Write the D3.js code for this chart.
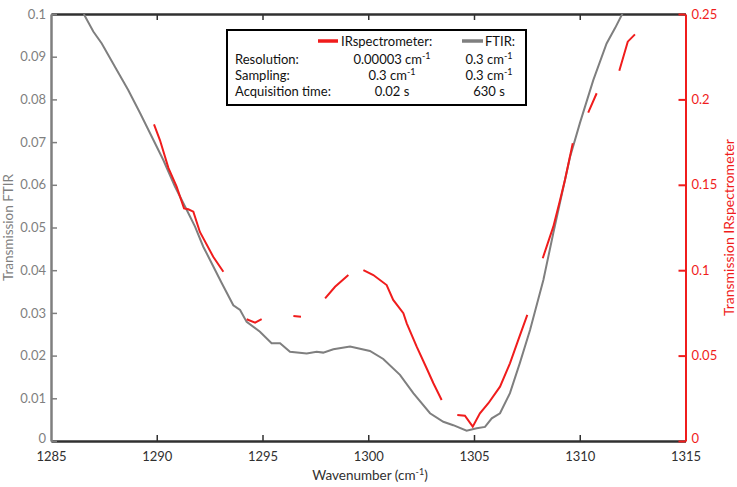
<!DOCTYPE html>
<html><head><meta charset="utf-8">
<script src="https://cdn.jsdelivr.net/npm/d3@7/dist/d3.min.js"></script>
<style>body{margin:0;background:#fff;}svg{display:block;font-family:Lato,"Open Sans",sans-serif;}</style>
</head><body><svg id="c" width="737" height="487"></svg>
<script>
// FTIR transmission (left axis)
const ftirWn = [1286.55,1287.00,1287.40,1288.11,1288.65,1289.21,1289.76,1290.31,1290.86,1291.42,1291.81,1292.20,1292.52,1293.07,1293.62,1293.94,1294.25,1294.88,1295.43,1295.83,1296.30,1297.09,1297.56,1297.87,1298.35,1299.14,1300.08,1300.71,1301.50,1302.13,1302.92,1303.55,1304.02,1304.65,1305.13,1305.52,1305.84,1306.23,1306.70,1307.17,1307.65,1308.28,1308.75,1309.54,1310.01,1310.64,1311.27,1311.67,1312.03];
const ftirT = [0.1000,0.0959,0.0931,0.0869,0.0822,0.0768,0.0713,0.0658,0.0596,0.0541,0.0502,0.0455,0.0424,0.0370,0.0318,0.0307,0.0279,0.0256,0.0229,0.0229,0.0209,0.0205,0.0209,0.0207,0.0215,0.0221,0.0211,0.0192,0.0155,0.0112,0.0065,0.0045,0.0037,0.0024,0.0030,0.0033,0.0053,0.0065,0.0112,0.0183,0.0260,0.0377,0.0487,0.0665,0.0745,0.0845,0.0931,0.0967,0.1002];
// IR spectrometer transmission (right axis), null = gap between segments
const irWn = [1289.87,1290.15,1290.55,1290.94,1291.29,1291.49,1291.73,1292.04,1292.67,1293.15,null,
  1294.25,1294.65,1294.96,null,
  1296.46,1296.82,null,
  1297.96,1298.43,1299.06,null,
  1299.77,1300.24,1300.87,1301.18,1301.66,1301.82,1302.29,1302.76,1303.08,1303.47,null,
  1304.21,1304.57,1304.94,1305.28,1305.68,1306.23,1306.70,1307.09,1307.52,null,
  1308.25,1308.75,1309.07,1309.30,1309.67,null,
  1310.40,1310.80,null,
  1311.87,1312.27,1312.61];
const irT = [0.1854,0.1762,0.1599,0.1489,0.1362,0.1357,0.1343,0.1224,0.1079,0.0991,null,
  0.0713,0.0693,0.0713,null,
  0.0732,0.0728,null,
  0.0835,0.0903,0.0972,null,
  0.1001,0.0972,0.0913,0.0826,0.0748,0.0689,0.0552,0.0426,0.0338,0.0240,null,
  0.0152,0.0148,0.0084,0.0162,0.0221,0.0318,0.0455,0.0591,0.0738,null,
  0.1070,0.1255,0.1411,0.1528,0.1743,null,
  0.1922,0.2036,null,
  0.2168,0.2338,0.2381];
const xTicks = [1285,1290,1295,1300,1305,1310,1315];
const leftTicks = [0,0.01,0.02,0.03,0.04,0.05,0.06,0.07,0.08,0.09,0.1];
const leftLabels = ["0","0.01","0.02","0.03","0.04","0.05","0.06","0.07","0.08","0.09","0.1"];
const rightTicks = [0,0.05,0.1,0.15,0.2,0.25];
const rightLabels = ["0","0.05","0.1","0.15","0.2","0.25"];
const legendRows = [
  ["Resolution:","0.00003 cm","0.3 cm"],
  ["Sampling:","0.3 cm","0.3 cm"],
  ["Acquisition time:","0.02 s","630 s"]
];

const svg = d3.select("#c");
const L=51, R=685.5, T=14, B=441;
const grey="#7f7f7f", red="#f01c1c", dark="#303030";
const x = d3.scaleLinear().domain([1285,1315]).range([L,R]);
const yL = d3.scaleLinear().domain([0,0.1]).range([B,T]);
const yR = d3.scaleLinear().domain([0,0.25]).range([B,T]);

svg.append("defs").append("clipPath").attr("id","clip")
  .append("rect").attr("x",L).attr("y",T).attr("width",R-L).attr("height",B-T);

// top border with ticks
const topAx = svg.append("g").attr("transform",`translate(0,${T})`)
  .call(d3.axisTop(x).tickValues(xTicks.slice(1,-1)).tickSizeInner(-6).tickSizeOuter(0).tickFormat(""));
topAx.select(".domain").attr("stroke",dark).attr("stroke-width",2.5);
topAx.selectAll(".tick line").attr("stroke",dark).attr("stroke-width",1.5);

// bottom axis
const bot = svg.append("g").attr("transform",`translate(0,${B})`)
  .call(d3.axisBottom(x).tickValues(xTicks).tickSizeInner(-6).tickSizeOuter(0).tickPadding(11).tickFormat(d3.format("d")));
bot.select(".domain").attr("stroke",dark).attr("stroke-width",2.5);
bot.selectAll(".tick line").attr("stroke",dark).attr("stroke-width",1.5)
  .attr("display",(d,i)=> (i===0||i===xTicks.length-1)?"none":null);
bot.selectAll(".tick text").attr("fill",dark).attr("font-size",13).attr("font-family","Lato");

// left axis
const la = svg.append("g").attr("transform",`translate(${L},0)`)
  .call(d3.axisLeft(yL).tickValues(leftTicks).tickSizeInner(-6).tickSizeOuter(0).tickPadding(5).tickFormat((d,i)=>leftLabels[i]));
la.select(".domain").attr("stroke",grey).attr("stroke-width",2.5);
la.selectAll(".tick line").attr("stroke",grey).attr("stroke-width",1.5);
la.selectAll(".tick text").attr("fill",grey).attr("font-size",13).attr("font-family","Lato")
  .attr("dy",(d)=> d===0 ? "0.1em" : "0.32em");

// right axis
const ra = svg.append("g").attr("transform",`translate(${R},0)`)
  .call(d3.axisRight(yR).tickValues(rightTicks).tickSizeInner(-7).tickSizeOuter(0).tickPadding(6).tickFormat((d,i)=>rightLabels[i]));
ra.select(".domain").attr("stroke",red).attr("stroke-width",2);
ra.selectAll(".tick line").attr("stroke",red).attr("stroke-width",2);
ra.selectAll(".tick text").attr("fill",red).attr("font-size",13).attr("font-family","Lato")
  .attr("dy",(d)=> d===0 ? "0.1em" : "0.32em");

// data lines
const g = svg.append("g").attr("clip-path","url(#clip)");
const ftirLine = d3.line().x((d,i)=>x(ftirWn[i])).y((d,i)=>yL(ftirT[i])).curve(d3.curveLinear);
g.append("path").datum(ftirWn).attr("d",ftirLine).attr("fill","none").attr("stroke",grey).attr("stroke-width",2);
const irLine = d3.line().defined((d,i)=>irWn[i]!==null).x((d,i)=>x(irWn[i])).y((d,i)=>yR(irT[i]));
g.append("path").datum(irWn).attr("d",irLine).attr("fill","none").attr("stroke",red).attr("stroke-width",2);

// axis titles
svg.append("text").attr("transform",`translate(13,${(T+B)/2}) rotate(-90)`).attr("text-anchor","middle")
  .attr("fill",grey).attr("font-size",13.5).text("Transmission FTIR");
svg.append("text").attr("transform",`translate(730,${(T+B)/2}) rotate(-90)`).attr("text-anchor","middle")
  .attr("fill",red).attr("font-size",14).attr("dominant-baseline","middle").text("Transmission IRspectrometer");
const xt = svg.append("text").attr("x",370).attr("y",480).attr("text-anchor","middle").attr("fill",dark).attr("font-size",13.5);
xt.append("tspan").text("Wavenumber (cm");
xt.append("tspan").attr("dy",-5).attr("font-size",9).text("-1");
xt.append("tspan").attr("dy",5).text(")");

// legend
const lg = svg.append("g");
lg.append("rect").attr("x",227).attr("y",30).attr("width",299).attr("height",75)
  .attr("fill","#fff").attr("stroke","#000").attr("stroke-width",2);
lg.append("line").attr("x1",318).attr("x2",338).attr("y1",41).attr("y2",41).attr("stroke",red).attr("stroke-width",3.5);
lg.append("text").attr("x",341).attr("y",46).attr("font-size",13).attr("fill","#111").text("IRspectrometer:");
lg.append("line").attr("x1",462).attr("x2",483).attr("y1",41).attr("y2",41).attr("stroke",grey).attr("stroke-width",3.5);
lg.append("text").attr("x",485).attr("y",46).attr("font-size",13).attr("fill","#111").text("FTIR:");
legendRows.forEach((row,i)=>{
  const yy = 64 + i*16;
  lg.append("text").attr("x",235).attr("y",yy).attr("font-size",13).attr("fill","#111").text(row[0]);
  [[row[1],392],[row[2],489]].forEach(([s,cx])=>{
    const t = lg.append("text").attr("x",cx).attr("y",yy).attr("text-anchor","middle").attr("font-size",13).attr("fill","#111");
    if (s.endsWith("cm")) {
      t.append("tspan").text(s);
      t.append("tspan").attr("dy",-5).attr("font-size",9).text("-1");
    } else t.text(s);
  });
});
</script></body></html>
